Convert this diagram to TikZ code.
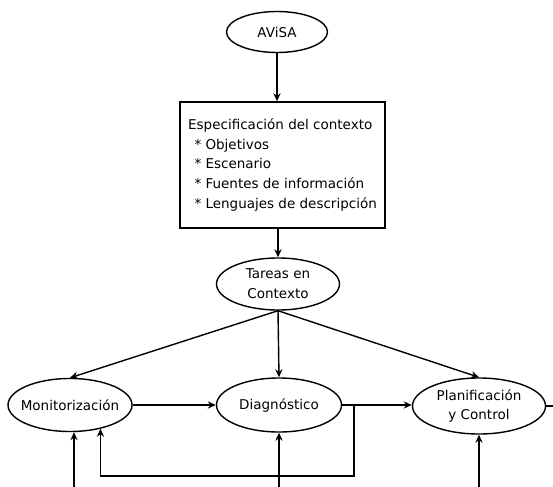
\documentclass[tikz,border=0pt]{standalone}
\usepackage{fontspec}
\setmainfont{DejaVu Sans}
\usetikzlibrary{shapes.geometric,arrows.meta}

\begin{document}
\begin{tikzpicture}[x=0.025cm, y=-0.025cm, line width=1pt,
    >={Stealth[length=2mm, width=1.8mm]},
    every node/.style={font=\fontsize{9.6}{14}\selectfont},
    etapa/.style={draw, ellipse, inner sep=0pt}]

    \clip (0,0) rectangle (553,487);

    % Define nodes
    \node (avisa) [etapa, minimum width=2.525cm, minimum height=1.025cm,
        label=center:AViSA] at (277,32) {};

    \node (esp) [draw, rectangle, minimum width=5.125cm, minimum height=3.15cm,
        align=left] at (282.5,165) {
        Especificación del contexto \\
        \hspace{4.5pt}* Objetivos \\
        \hspace{4.5pt}* Escenario \\
        \hspace{4.5pt}* Fuentes de información \\
        \hspace{4.5pt}* Lenguajes de descripción
    };

    \node (tar) [etapa, minimum width=3.075cm, minimum height=1.3cm,
        label={[align=center]center:Tareas en \\ Contexto}] at (278,284) {};

    \node (mon) [etapa, minimum width=3.1cm, minimum height=1.325cm,
        label=center:Monitorización] at (70,405) {};
    \node (dia) [etapa, minimum width=3.125cm, minimum height=1.35cm,
        label=center:Diagnóstico] at (279,405) {};
    \node (pla) [etapa, minimum width=3.325cm, minimum height=1.4cm,
        label={[align=center]center:Planificación \\ y Control}] at (479,406) {};

    % Free ends
    \coordinate (fb) at (354,476);
    \coordinate (in1) at (74,495);
    \coordinate (in2) at (279,495);
    \coordinate (in3) at (479,495);
    \coordinate (out) at (560,405);

    % Define connections
    \draw[->] (avisa) -- (avisa |- esp.north);
    \draw[->] (tar |- esp.south) -- (tar);
    \draw[->] (tar.south) -- (mon.north);
    \draw[->] (tar.south) -- (dia.north);
    \draw[->] (tar.south) -- (pla.north);
    \draw[->] (mon.east) -- (dia.west);
    \draw[->] (dia.east) -- (dia.east -| pla.west);
    \draw[->] (dia.east -| fb) -- (fb) -| (mon.-38);
    \draw[->] (in1) -- (in1 |- mon.south);
    \draw[->] (in2) -- (in2 |- dia.south);
    \draw[->] (in3) -- (in3 |- pla.south);
    \draw (pla.east) -- (out |- pla.east);

\end{tikzpicture}
\end{document}
